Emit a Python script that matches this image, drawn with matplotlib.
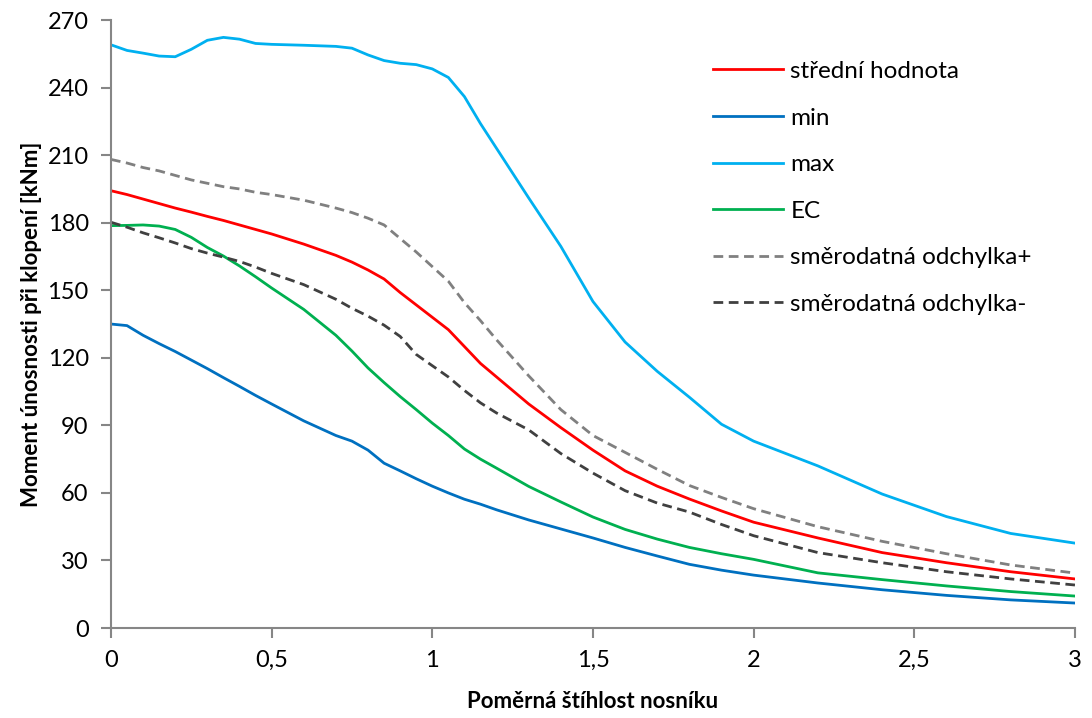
import matplotlib
matplotlib.use('Agg')
import matplotlib.pyplot as plt
from matplotlib.ticker import FuncFormatter

plt.rcParams['font.family'] = ['Lato', 'DejaVu Sans']

# ========================================================
# Data
# ========================================================
x = [0, 0.05, 0.1, 0.15, 0.2, 0.25, 0.3, 0.35, 0.4, 0.45, 0.5, 0.6, 0.7, 0.75,
     0.8, 0.85, 0.9, 0.95, 1.0, 1.05, 1.1, 1.15, 1.2, 1.3, 1.4, 1.5, 1.6, 1.7,
     1.8, 1.9, 2.0, 2.2, 2.4, 2.6, 2.8, 3.0]

stredni = [194.2, 192.5, 190.5, 188.5, 186.5, 184.7, 182.8, 181.0, 179.0, 177.0,
           175.0, 170.5, 165.5, 162.5, 159.0, 155.0, 149.0, 143.5, 138.0, 132.5,
           125.0, 117.5, 111.5, 99.5, 89.0, 79.0, 69.8, 63.0, 57.3, 52.0, 47.0,
           40.0, 33.5, 29.0, 25.0, 21.8]

min_val = [135.0, 134.3, 130.0, 126.3, 122.8, 119.0, 115.2, 111.2, 107.3, 103.3,
           99.5, 92.0, 85.5, 83.0, 79.0, 73.2, 69.8, 66.3, 63.0, 60.0, 57.2, 55.0,
           52.5, 48.0, 44.0, 40.0, 35.8, 32.0, 28.3, 25.7, 23.5, 20.0, 17.0, 14.5,
           12.5, 11.1]

max_val = [259.0, 256.5, 255.3, 254.0, 253.7, 257.0, 261.0, 262.3, 261.5, 259.6,
           259.2, 258.8, 258.3, 257.5, 254.5, 252.0, 250.8, 250.2, 248.3, 244.5,
           236.0, 224.0, 213.0, 191.0, 169.5, 145.0, 127.0, 114.0, 102.5, 90.5,
           83.0, 72.0, 59.5, 49.5, 42.0, 37.7]

ec = [178.7, 178.8, 179.0, 178.5, 177.0, 173.5, 169.0, 165.2, 160.8, 156.0,
      151.0, 141.5, 130.0, 123.0, 115.5, 109.0, 102.8, 97.0, 91.0, 85.5, 79.5,
      75.0, 71.0, 62.9, 56.0, 49.3, 43.8, 39.5, 35.8, 33.0, 30.5, 24.5, 21.5,
      18.7, 16.2, 14.2]

odch_plus = [208.1, 206.5, 204.5, 203.0, 201.0, 199.0, 197.5, 196.0, 195.0, 193.5,
             192.5, 190.0, 186.5, 184.5, 182.0, 179.0, 173.0, 167.0, 160.5, 154.0,
             144.5, 136.5, 128.0, 112.0, 97.0, 85.5, 78.0, 70.5, 63.3, 58.0, 53.0,
             45.0, 38.5, 33.0, 28.0, 24.4]

odch_minus = [180.2, 178.0, 175.5, 173.3, 171.0, 168.5, 166.5, 164.7, 162.8, 160.3,
              157.5, 152.5, 146.0, 142.0, 138.5, 134.5, 129.5, 121.5, 116.5, 111.5,
              105.5, 100.0, 95.5, 88.0, 77.5, 68.8, 61.0, 55.5, 51.5, 46.0, 41.0,
              33.5, 29.0, 25.0, 21.8, 19.1]

x_ticks = [0, 0.5, 1, 1.5, 2, 2.5, 3]
y_ticks = list(range(0, 271, 30))

# ========================================================
# Plot
# ========================================================
fig = plt.figure(figsize=(10.92, 7.18), dpi=100)
ax = fig.add_axes([0.1016, 0.1253, 0.8828, 0.8468])

lw = 2.0
dash = (0, (3.5, 2))
ax.plot(x, stredni, color='#FF0000', lw=lw, label='střední hodnota')
ax.plot(x, min_val, color='#0070C0', lw=lw, label='min')
ax.plot(x, max_val, color='#00B0F0', lw=lw, label='max')
ax.plot(x, ec, color='#00B050', lw=lw, label='EC')
ax.plot(x, odch_plus, color='#808080', lw=lw, ls=dash,
        label='směrodatná odchylka+')
ax.plot(x, odch_minus, color='#404040', lw=lw, ls=dash,
        label='směrodatná odchylka-')

ax.set_xlim(0, 3)
ax.set_ylim(0, 270)
ax.set_xticks(x_ticks)
ax.set_yticks(y_ticks)
ax.xaxis.set_major_formatter(FuncFormatter(lambda v, p: f'{v:g}'.replace('.', ',')))

for side in ('top', 'right'):
    ax.spines[side].set_visible(False)
for side in ('left', 'bottom'):
    ax.spines[side].set_color('#868686')
    ax.spines[side].set_linewidth(1.5)
ax.tick_params(axis='both', direction='out', length=7, width=1.5,
               color='#868686', labelsize=17, pad=9)

ax.set_xlabel('Poměrná štíhlost nosníku', fontsize=16, fontweight='bold',
              labelpad=14)
ax.set_ylabel('Moment únosnosti při klopení [kNm]', fontsize=16,
              fontweight='bold', labelpad=4)

ax.legend(loc='upper left', bbox_to_anchor=(0.642, 0.932),
          bbox_transform=fig.transFigure, frameon=False, fontsize=17.5,
          handlelength=2.88, labelspacing=1.05, borderpad=0,
          handletextpad=0.29)

plt.savefig('out.png', dpi=100)
